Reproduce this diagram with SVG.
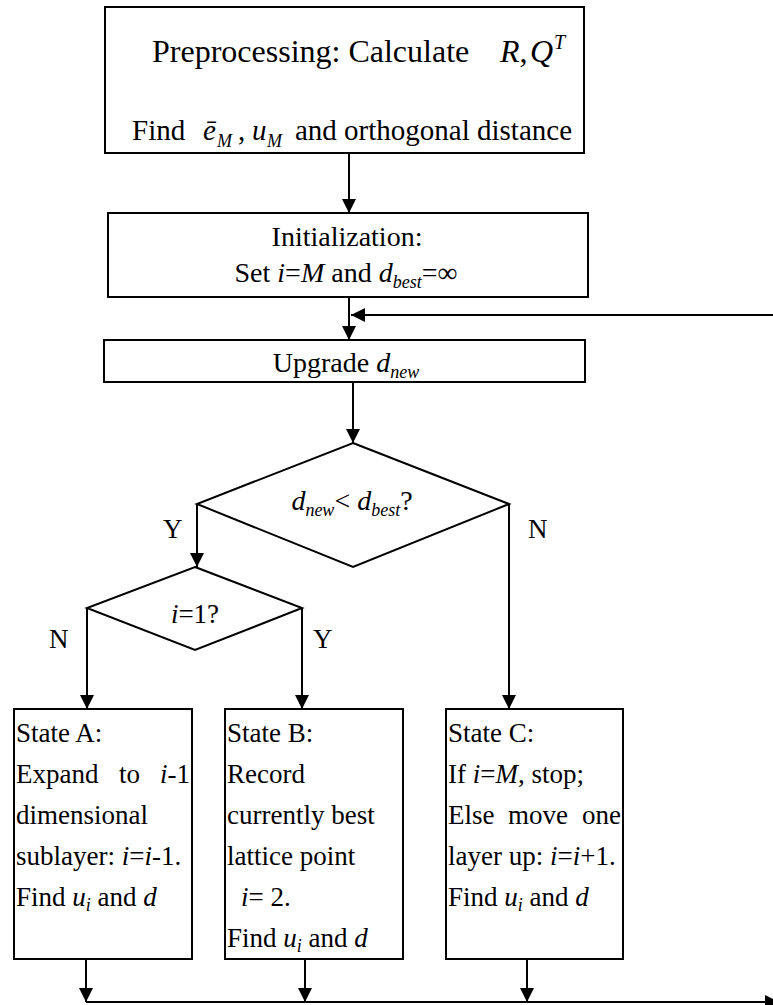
<svg xmlns="http://www.w3.org/2000/svg" width="773" height="1005" viewBox="0 0 773 1005">
<style>
  text { font-family: "Liberation Serif", "Times New Roman", serif; fill: #000; }
  .box { fill: #fff; stroke: #000; stroke-width: 2; }
  .wire { fill: none; stroke: #000; stroke-width: 2; }
  .arr { marker-end: url(#head); }
  .it { font-style: italic; }
  .s { font-style: italic; font-size: 18px; }
  .f27 { font-size: 27px; }
  .f28 { font-size: 28px; }
  .mid { text-anchor: middle; }
</style>
<defs>
  <marker id="head" markerUnits="userSpaceOnUse" markerWidth="14" markerHeight="14" refX="14" refY="7" orient="auto">
    <path d="M0,0 L14,7 L0,14 Z" fill="#000"/>
  </marker>
</defs>
<rect width="773" height="1005" fill="#fff"/>

<!-- flow lines -->
<g id="connectors">
  <path class="wire arr" d="M349,153 V213"/>
  <path class="wire arr" d="M349,297 V340"/>
  <path class="wire arr" d="M773,315 H351"/>
  <path class="wire arr" d="M353,382 V443"/>
  <path class="wire arr" d="M197,504 V567"/>
  <path class="wire arr" d="M509,504 V709"/>
  <path class="wire arr" d="M87,608 V709"/>
  <path class="wire arr" d="M302,608 V709"/>
  <path class="wire arr" d="M86,959 V1002"/>
  <path class="wire arr" d="M305,959 V1002"/>
  <path class="wire arr" d="M527,959 V1002"/>
  <path class="wire arr" d="M86,1002 H779"/>
  <text class="f27" x="163" y="538">Y</text>
  <text class="f27" x="528" y="538">N</text>
  <text class="f27" x="49" y="648">N</text>
  <text class="f27" x="313" y="648">Y</text>
</g>

<g id="preprocess">
  <rect class="box" x="105" y="7" width="479" height="146"/>
  <text x="152" y="62" font-size="32">Preprocessing: Calculate<tspan class="it" x="500">R</tspan>,<tspan class="it" x="530">Q</tspan><tspan class="it" font-size="20" x="554" dy="-13">T</tspan></text>
  <text x="132" y="140" font-size="29">Find<tspan class="it" x="203">ē</tspan><tspan class="s" x="217" dy="7">M</tspan><tspan x="238" dy="-7">,</tspan><tspan class="it" x="252">u</tspan><tspan class="s" x="267" dy="7">M</tspan><tspan x="295" dy="-7">and orthogonal distance</tspan></text>
</g>

<g id="init">
  <rect class="box" x="108" y="213" width="480" height="84"/>
  <text class="f28 mid" x="347" y="246">Initialization:</text>
  <text class="f28 mid" x="346" y="282">Set <tspan class="it">i</tspan>=<tspan class="it">M</tspan> and <tspan class="it">d</tspan><tspan class="s" dy="6">best</tspan><tspan dy="-6">=∞</tspan></text>
</g>

<g id="upgrade">
  <rect class="box" x="104" y="340" width="481" height="42"/>
  <text class="f28 mid" x="346" y="372">Upgrade <tspan class="it">d</tspan><tspan class="s" dy="6">new</tspan></text>
</g>

<g id="test-distance">
  <polygon class="box" points="353,443 509,504 353,567 197,504"/>
  <text class="f28 mid" x="352" y="510"><tspan class="it">d</tspan><tspan class="s" dy="6">new</tspan><tspan dy="-6">&lt; </tspan><tspan class="it">d</tspan><tspan class="s" dy="6">best</tspan><tspan dy="-6">?</tspan></text>
</g>

<g id="test-layer">
  <polygon class="box" points="195,567 302,608 195,650 87,608"/>
  <text class="f27 mid" x="195" y="623"><tspan class="it">i</tspan>=1?</text>
</g>

<g id="state-a">
  <rect class="box" x="14" y="709" width="178" height="250"/>
  <text class="f27" x="16" y="742">State A:</text>
  <text class="f27" y="783"><tspan x="16">Expand</tspan><tspan x="119">to</tspan><tspan class="it" x="160">i</tspan>-1</text>
  <text class="f27" x="16" y="824">dimensional</text>
  <text class="f27" x="16" y="865">sublayer: <tspan class="it">i</tspan>=<tspan class="it">i</tspan>-1.</text>
  <text class="f27" x="16" y="906">Find <tspan class="it">u</tspan><tspan class="s" dy="5">i</tspan><tspan dy="-5"> and </tspan><tspan class="it">d</tspan></text>
</g>

<g id="state-b">
  <rect class="box" x="225" y="709" width="178" height="250"/>
  <text class="f27" x="227" y="742">State B:</text>
  <text class="f27" x="227" y="783">Record</text>
  <text class="f27" x="227" y="824">currently best</text>
  <text class="f27" x="227" y="865">lattice point</text>
  <text class="f27" x="241" y="906"><tspan class="it">i</tspan>= 2.</text>
  <text class="f27" x="227" y="947">Find <tspan class="it">u</tspan><tspan class="s" dy="5">i</tspan><tspan dy="-5"> and </tspan><tspan class="it">d</tspan></text>
</g>

<g id="state-c">
  <rect class="box" x="446" y="709" width="177" height="250"/>
  <text class="f27" x="448" y="742">State C:</text>
  <text class="f27" x="448" y="783">If <tspan class="it">i</tspan>=<tspan class="it">M</tspan>, stop;</text>
  <text class="f27" y="824"><tspan x="448">Else</tspan><tspan x="508">move</tspan><tspan x="582">one</tspan></text>
  <text class="f27" x="448" y="865">layer up: <tspan class="it">i</tspan>=<tspan class="it">i</tspan>+1.</text>
  <text class="f27" x="448" y="906">Find <tspan class="it">u</tspan><tspan class="s" dy="5">i</tspan><tspan dy="-5"> and </tspan><tspan class="it">d</tspan></text>
</g>
</svg>
